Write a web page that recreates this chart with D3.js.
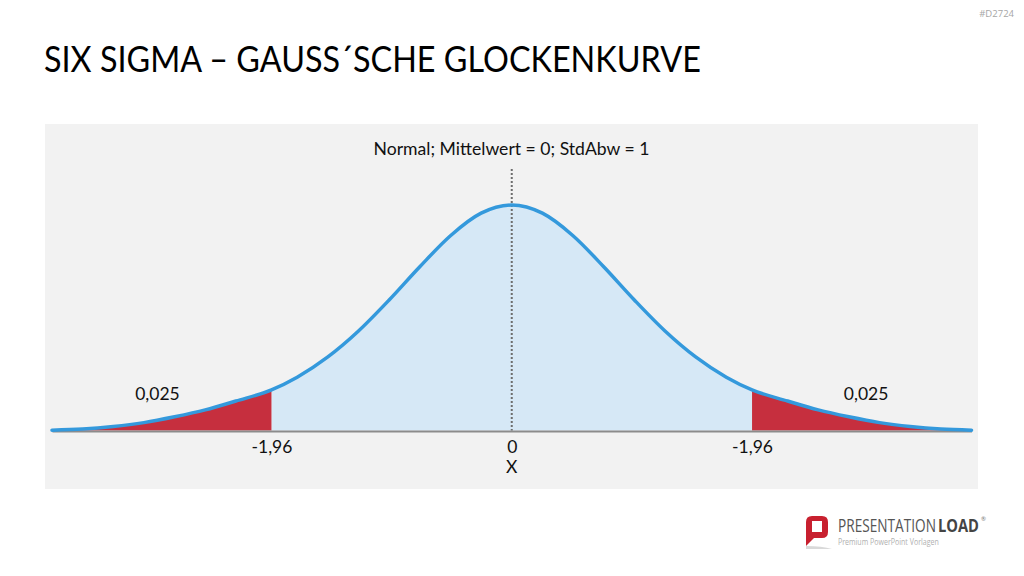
<!DOCTYPE html>
<html><head><meta charset="utf-8">
<script src="https://cdn.jsdelivr.net/npm/d3@7"></script>
<style>
html,body{margin:0;padding:0;background:#fff;}
svg{display:block;font-family:Lato,"Open Sans",sans-serif;}
</style></head>
<body><svg id="c" width="1024" height="576"></svg>
<script>
// ---- data ----
const title = "SIX SIGMA – GAUSS´SCHE GLOCKENKURVE";
const subtitle = "Normal; Mittelwert = 0; StdAbw = 1";
const xValues = [-3.75,-3.5,-3.25,-3,-2.75,-2.5,-2.25,-1.96,-1.75,-1.5,-1.25,-1,-0.75,-0.5,-0.25,0,
                 0.25,0.5,0.75,1,1.25,1.5,1.75,1.96,2.25,2.5,2.75,3,3.25,3.5,3.75];
const density = [0.0006,0.0025,0.007,0.014,0.0243,0.0365,0.0523,0.072,0.0945,0.1305,0.1765,0.2315,0.2905,0.3455,0.3855,0.4,
                 0.3855,0.3455,0.2905,0.2315,0.1765,0.1305,0.0945,0.072,0.0523,0.0365,0.0243,0.014,0.007,0.0025,0.0006];
const criticalValue = 1.96;
const tickValues = [-1.96, 0, 1.96];
const tickLabels = ["-1,96", "0", "-1,96"];
const axisTitle = "X";
const tailLabels = ["0,025", "0,025"];
const tailLabelX = [-2.89, 2.89];
const tailLabelY = [0.054, 0.054];
const meanLineTop = 0.464;

const svg = d3.select("#c");
const data = xValues.map((x,i)=>({x, y:density[i]}));

// scale a left-anchored text horizontally so it spans targetW pixels
function fitText(sel, x0, targetW){
  const w = sel.node().getComputedTextLength();
  const k = targetW / w;
  sel.attr("transform", `translate(${x0},0) scale(${k},1) translate(${-x0},0)`);
  return sel;
}

// frame text
svg.append("text").attr("x",1014).attr("y",17).attr("text-anchor","end")
  .attr("font-size",9.5).attr("fill","#a6a6a6").attr("font-family","'Open Sans',sans-serif").text("#D2724");
fitText(svg.append("text").attr("x",44).attr("y",72).attr("font-size",37).attr("fill","#000").text(title), 44, 657);

// panel
svg.append("rect").attr("x",45).attr("y",124).attr("width",933).attr("height",365).attr("fill","#f2f2f2");

const x = d3.scaleLinear().domain([-3.75,3.75]).range([52,971.5]);
const y = d3.scaleLinear().domain([0,0.4]).range([430.5,205]);

svg.append("text").attr("x",511.5).attr("y",155).attr("text-anchor","middle")
  .attr("font-size",17.6).attr("fill","#111").text(subtitle);

const area = d3.area().x(d=>x(d.x)).y0(y(0)).y1(d=>y(d.y)).curve(d3.curveMonotoneX);
const line = d3.line().x(d=>x(d.x)).y(d=>y(d.y)).curve(d3.curveMonotoneX);

const left = data.filter(d=>d.x<=-criticalValue);
const mid = data.filter(d=>d.x>=-criticalValue && d.x<=criticalValue);
const right = data.filter(d=>d.x>=criticalValue);

svg.append("path").datum(mid).attr("d",area).attr("fill","#d6e8f6");
svg.append("path").datum(left).attr("d",area).attr("fill","#c62f3e");
svg.append("path").datum(right).attr("d",area).attr("fill","#c62f3e");

// axis
const axis = d3.axisBottom(x).tickValues(tickValues).tickSize(0).tickPadding(10)
  .tickFormat((d,i)=>tickLabels[i]);
const gA = svg.append("g").attr("transform",`translate(0,${y(0)+0.5})`).call(axis);
gA.select(".domain").attr("stroke","#8c8c8c").attr("stroke-width",2);
gA.selectAll("text").attr("font-size",17.5).attr("fill","#111")
  .attr("font-family","Lato,'Open Sans',sans-serif");
svg.append("text").attr("x",x(0)).attr("y",473).attr("text-anchor","middle")
  .attr("font-size",17.5).attr("fill","#111").text(axisTitle);

// mean dotted line
svg.append("line").attr("x1",x(0)).attr("x2",x(0)).attr("y1",y(meanLineTop)).attr("y2",y(0))
  .attr("stroke","#6e6e6e").attr("stroke-width",2).attr("stroke-dasharray","2,2");

svg.append("path").datum(data).attr("d",line).attr("fill","none")
  .attr("stroke","#3499dc").attr("stroke-width",3.5).attr("stroke-linecap","round");

tailLabels.forEach((t,i)=>{
  svg.append("text").attr("x",x(tailLabelX[i])).attr("y",y(tailLabelY[i])).attr("text-anchor","middle")
    .attr("font-size",17.5).attr("fill","#111").text(t);
});

// logo
const lg = svg.append("g");
lg.append("path").attr("d","M806,546 L806,522 Q806,516 812,516 L822,516 Q828,516 828,522 L828,532 Q828,538 822,538 L814,538 Z")
  .attr("fill","#c8202f");
lg.append("rect").attr("x",812).attr("y",521).attr("width",10).attr("height",11).attr("fill","#fff");
lg.append("path").attr("d","M806,546 L806,549 L832,549 Q822,546 806,546 Z").attr("fill","#d9d9d9");
fitText(lg.append("text").attr("x",838).attr("y",532).attr("font-size",18).attr("fill","#555")
  .attr("font-family","'Open Sans',sans-serif").text("PRESENTATION"), 838, 98);
fitText(lg.append("text").attr("x",938).attr("y",532).attr("font-size",18).attr("font-weight","bold").attr("fill","#444")
  .attr("font-family","'Open Sans',sans-serif").text("LOAD"), 938, 41);
lg.append("text").attr("x",981).attr("y",521).attr("font-size",6).attr("fill","#777").text("®");
fitText(lg.append("text").attr("x",838).attr("y",545.5).attr("font-size",8.5).attr("fill","#b0b0b0")
  .attr("font-family","'Open Sans',sans-serif").text("Premium PowerPoint Vorlagen"), 838, 101);
</script></body></html>
